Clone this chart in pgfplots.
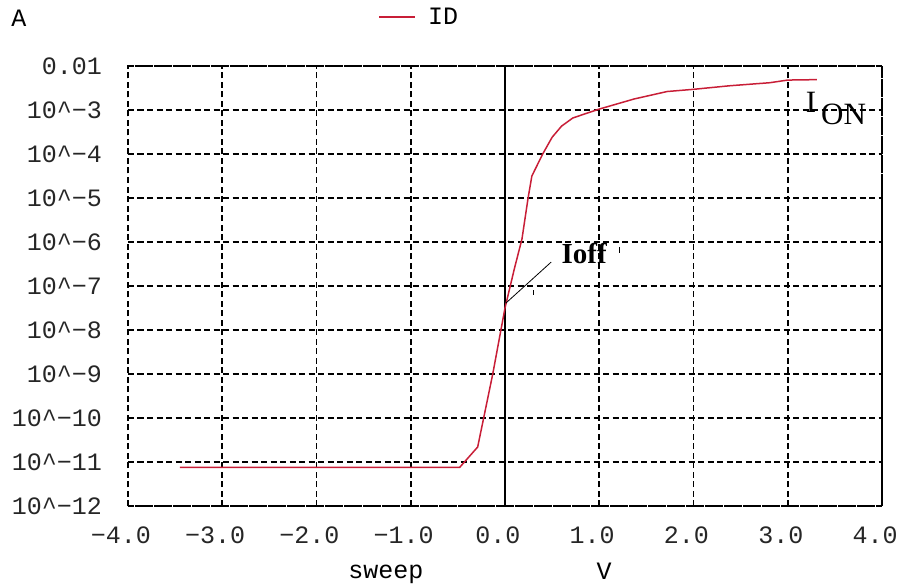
\documentclass[border=0pt]{standalone}
\usepackage{fontspec}
\usepackage{pgfplots}
\pgfplotsset{compat=1.18}
\newfontfamily\tickfont{Liberation Mono}
\newfontfamily\seriffont{Liberation Serif}
\definecolor{curve}{RGB}{200,30,55}
\begin{document}
\begin{tikzpicture}[x=1pt,y=1pt]
\path[use as bounding box] (0,0) rectangle (909,588);
\begin{axis}[
  at={(128pt,82pt)}, anchor=south west,
  scale only axis, width=754pt, height=440pt,
  xmin=-4, xmax=4, ymin=1e-12, ymax=1e-2, ymode=log,
  xtick={-4,-3,-2,-1,0,1,2,3,4},
  xticklabels={−4.0,−3.0,−2.0,−1.0,0.0,1.0,2.0,3.0,4.0},
  ytick={1e-12,1e-11,1e-10,1e-9,1e-8,1e-7,1e-6,1e-5,1e-4,1e-3,1e-2},
  yticklabels={10\textasciicircum−12,10\textasciicircum−11,10\textasciicircum−10,10\textasciicircum−9,10\textasciicircum−8,10\textasciicircum−7,10\textasciicircum−6,10\textasciicircum−5,10\textasciicircum−4,10\textasciicircum−3,0.01},
  yminorticks=false,
  major tick length=0pt,
  grid=major,
  major grid style={black, line width=1.6pt, dash pattern=on 6pt off 3.5pt},
  axis line style={black, line width=1.6pt, dash pattern=on 6pt off 3.5pt},
  ticklabel style={font=\tickfont\fontsize{25}{25}\selectfont, text=black!85},
  xticklabel style={anchor=center, inner sep=0pt, yshift=-29pt, xshift=-7pt},
  yticklabel style={anchor=east, inner sep=0pt, xshift=-26pt},
  legend style={at={(axis description cs:0.332,1.111)}, anchor=west, draw=none, fill=none, inner sep=0pt,
    font=\tickfont\fontsize{25}{25}\selectfont},
  legend image code/.code={\draw[#1] (0pt,0pt) -- (36pt,0pt);},
]
\draw[black, line width=1.4pt] (axis cs:0,1e-12) -- (axis cs:0,1e-2);
\addplot[curve, line width=1.5pt] coordinates {
(-3.45,7.59e-12)
(-0.48,7.59e-12)
(-0.29,2.19e-11)
(-0.13,1.0e-9)
(0.0,3.16e-8)
(0.10,2.5e-7)
(0.18,1.17e-6)
(0.245,1.0e-5)
(0.285,3.16e-5)
(0.40,1.0e-4)
(0.50,2.4e-4)
(0.60,4.3e-4)
(0.72,6.6e-4)
(1.0,1.05e-3)
(1.37,1.78e-3)
(1.72,2.63e-3)
(2.0,2.95e-3)
(2.38,3.55e-3)
(2.81,4.17e-3)
(3.0,4.79e-3)
(3.31,4.9e-3)
};
\addlegendentry{\hspace{10pt}ID}
\draw[black, line width=0.8pt] (axis cs:0.01,4.1e-8) -- (axis cs:0.49,3.5e-7);
\node[inner sep=0pt] at (axis cs:0.84,5.4e-7) {\seriffont\bfseries\fontsize{29}{29}\selectfont Ioff};
\node[inner sep=0pt, anchor=base west] at (axis cs:3.19,8.9e-4) {\seriffont\fontsize{31}{31}\selectfont I\hspace{5pt}\raisebox{-12pt}{ON}};
\end{axis}
\draw[black, line width=0.8pt] (619,341) -- (619,335);
\draw[black, line width=0.8pt] (533,293) -- (533,298);
\node[inner sep=0pt, font=\tickfont\fontsize{25}{25}\selectfont] at (19,570) {A};
\node[inner sep=0pt, font=\tickfont\fontsize{25}{25}\selectfont] at (386,14) {sweep};
\node[inner sep=0pt, font=\tickfont\fontsize{25}{25}\selectfont] at (604,17) {V};
\end{tikzpicture}
\end{document}
